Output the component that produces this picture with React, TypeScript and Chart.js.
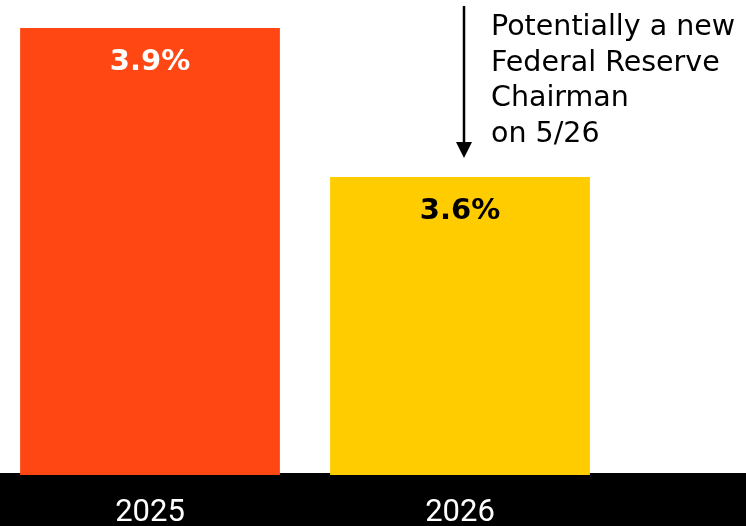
import React, { useEffect, useRef } from "react";
import { Chart, registerables } from "chart.js";

Chart.register(...registerables);

const categories = ["2025", "2026"];
const values = [3.9, 3.6];
const valueLabels = ["3.9%", "3.6%"];
const barColors = ["#FF4713", "#FFCC00"];
const valueLabelColors = ["#FFFFFF", "#000000"];
const annotationLines = ["Potentially a new", "Federal Reserve", "Chairman", "on 5/26"];
const yMin = 3.0;
const yMax = 3.9564;

const bandPlugin = {
  id: "band",
  beforeDraw(chart: any) {
    const { ctx, chartArea } = chart;
    ctx.save();
    ctx.fillStyle = "#000000";
    ctx.fillRect(0, chartArea.bottom - 2, chart.width, chart.height - chartArea.bottom + 2);
    ctx.restore();
  },
};

const labelsPlugin = {
  id: "valueLabels",
  afterDatasetsDraw(chart: any) {
    const { ctx } = chart;
    const meta = chart.getDatasetMeta(0);
    ctx.save();
    ctx.font = "bold 29px 'DejaVu Sans'";
    ctx.textAlign = "center";
    ctx.textBaseline = "middle";
    meta.data.forEach((bar: any, i: number) => {
      ctx.fillStyle = valueLabelColors[i];
      ctx.fillText(valueLabels[i], bar.x, bar.y + 34);
    });
    // annotation near second bar
    const b = meta.data[1];
    const ax = b.x + 4;
    const tipY = b.y - 19;
    ctx.strokeStyle = "#000000";
    ctx.fillStyle = "#000000";
    ctx.lineWidth = 2.5;
    ctx.beginPath();
    ctx.moveTo(ax, 6);
    ctx.lineTo(ax, tipY - 10);
    ctx.stroke();
    ctx.beginPath();
    ctx.moveTo(ax - 8, tipY - 16);
    ctx.lineTo(ax + 8, tipY - 16);
    ctx.lineTo(ax, tipY);
    ctx.closePath();
    ctx.fill();
    ctx.font = "28.5px 'DejaVu Sans'";
    ctx.textAlign = "left";
    ctx.textBaseline = "alphabetic";
    annotationLines.forEach((line, i) => {
      ctx.fillText(line, b.x + 31, 35 + i * 35.5);
    });
    ctx.restore();
  },
};

export default function App() {
  const ref = useRef<HTMLCanvasElement>(null);
  useEffect(() => {
    if (!ref.current) return;
    const chart = new Chart(ref.current, {
      type: "bar",
      data: {
        labels: categories,
        datasets: [
          {
            data: values,
            backgroundColor: barColors,
            borderWidth: 0,
            barPercentage: 0.838,
            categoryPercentage: 1,
          },
        ],
      },
      options: {
        responsive: false,
        animation: false,
        devicePixelRatio: 1,
        layout: { padding: { left: 0, right: 131, top: 0, bottom: 0 } },
        plugins: { legend: { display: false }, tooltip: { enabled: false } },
        scales: {
          y: { display: false, min: yMin, max: yMax },
          x: {
            grid: { display: false, drawTicks: false },
            border: { display: false },
            ticks: {
              color: "#FFFFFF",
              font: { family: "Roboto", size: 31 },
              padding: 20,
            },
            afterFit: (scale: any) => {
              scale.height = 51;
            },
          },
        },
      },
      plugins: [bandPlugin, labelsPlugin],
    });
    return () => chart.destroy();
  }, []);
  return (
    <div style={{ position: "absolute", left: 0, top: 0, width: 746, height: 526, overflow: "hidden", background: "#FFFFFF" }}>
      <canvas ref={ref} width={751} height={526} style={{ position: "absolute", left: -5, top: 0, width: 751, height: 526 }} />
    </div>
  );
}
